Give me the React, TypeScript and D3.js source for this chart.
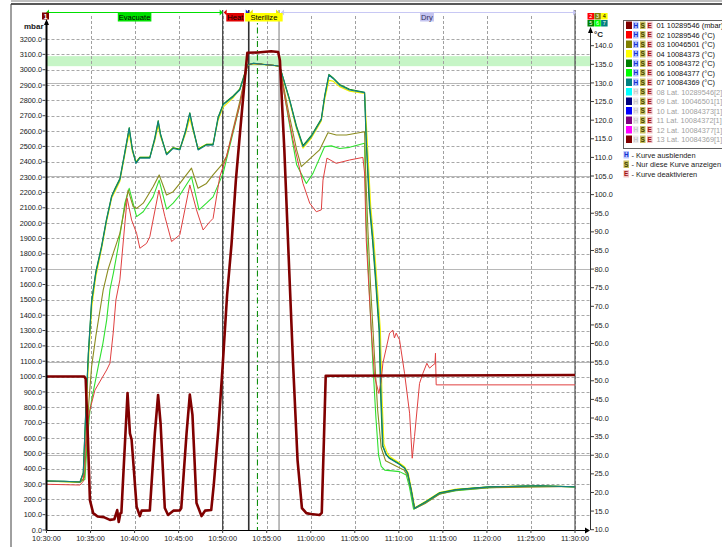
import React from 'react';
import * as d3 from 'd3';

const W = 722;
const H = 547;

// ---- axes ----
const leftTicks = d3.range(0, 3201, 100);
const rightTicks = d3.range(10, 141, 5);
const timeLabels = ["10:30:00","10:35:00","10:40:00","10:45:00","10:50:00","10:55:00","11:00:00","11:05:00","11:10:00","11:15:00","11:20:00","11:25:00","11:30:00"];
const timeTickMin = [0,5,10,15,20,25,30,35,40,45,50,55,60];
const solidTempLines = [30, 55, 80, 105, 130];
const bandLow = 134.5;
const bandHigh = 137.2;

// ---- phases (minutes after 10:30:00) ----
const phaseNames = ["Evacuate", "Heat", "Sterilize", "Dry"];
const phaseStart = [0, 20, 22.96, 26.4];
const phaseEnd = [20, 22.96, 26.4, 60];
const phaseFill = ["#00e000", "#e00000", "#ffff00", "#c4c4f0"];
const phaseLineColor = ["#00e000", "#e00000", "#e8e800", "#c8c8f4"];
const holdMarkMin = 23.95;

// ---- series: [minutes after 10:30:00, value] ----
const s01_mbar = [[0,1000],[4.3,1000],[4.45,985],[4.7,600],[4.93,195],[5.3,110],[5.8,88],[6.5,84],[7.2,66],[7.7,70],[8.03,130],[8.2,52],[8.4,110],[8.5,112],[9.2,893],[9.47,630],[9.66,590],[10.23,152],[10.6,91],[10.8,126],[11.73,128],[12.3,630],[12.67,880],[12.95,697],[13.43,143],[13.8,98],[14.4,126],[15.14,128],[15.3,143],[15.9,630],[16.27,882],[16.57,750],[17.03,176],[17.6,91],[18.0,126],[18.7,130],[19.0,300],[19.5,650],[20.0,1070],[20.5,1530],[21.0,1860],[21.5,2280],[22.0,2610],[22.5,2930],[22.8,3110],[24.0,3112],[25.5,3120],[26.3,3115],[26.5,3060],[27.0,2480],[27.5,1770],[28.0,1075],[28.5,456],[29.0,143],[29.5,110],[30.0,104],[31.0,98],[31.25,112],[31.5,600],[31.7,1005],[60,1010]];

const s02_red = [[0,22.2],[3.8,22.0],[4.17,23],[4.36,30],[4.56,37.7],[4.93,42.2],[5.5,47.5],[6.83,52.9],[7.2,54.7],[7.57,62.8],[7.88,71.7],[8.33,77.1],[8.9,92.3],[9.16,99],[9.66,93.2],[10.23,89.6],[10.6,85.6],[11.36,86.9],[11.73,88.7],[12.76,101.2],[13.44,94.1],[14.2,87.4],[15.14,89.2],[16.27,102.6],[17.03,95.9],[17.78,90.5],[18.54,92.7],[18.91,93.6],[19.67,104.8],[20.43,110.2],[21.94,124],[22.81,134.8],[23.5,135.2],[24.5,135],[26.2,134.6],[26.47,134.5],[27.04,126.3],[27.98,114.7],[29.12,103],[29.88,97.7],[30.63,95.4],[31.2,95.9],[31.39,103.9],[31.84,109.8],[32.9,108.4],[34.41,109.3],[35.92,110.0],[36.11,105.8],[36.3,87.8],[36.87,63.6],[37.25,51.1],[37.73,46.6],[38.0,50],[38.19,54.7],[38.95,62.8],[39.32,63.6],[39.5,61.5],[39.7,62.8],[39.9,61.8],[40.08,61.0],[40.65,52.0],[41.22,41.3],[41.52,29.2],[41.78,35.0],[42.35,49.3],[42.73,52],[43.18,54.7],[43.49,53.4],[43.87,54.2],[44.1,54.6],[44.16,57.4],[44.24,48.9],[60,48.9]];

const s03_olive = [[0,23.0],[3.8,22.8],[4.3,24],[4.5,32],[4.8,44],[5.12,53.8],[5.6,62],[6.26,71.7],[6.44,74.4],[7.0,80],[7.57,84.2],[8.33,89.6],[9.27,101.2],[9.84,96.8],[10.23,96.3],[10.98,97.7],[12.1,102.1],[12.79,105.3],[13.63,99.9],[14.38,100.8],[15.14,103],[16.46,107.1],[17.2,101.7],[18.16,103],[18.91,105.3],[19.86,107.9],[20.43,110.2],[21.94,125],[22.81,134.8],[23.5,135.2],[24.5,135],[26.2,134.6],[26.47,134.5],[27.5,122],[28.4,112],[28.93,107.5],[31.0,112],[31.95,116.6],[32.9,116],[34.04,116],[36.11,116.9],[36.25,105],[36.5,90],[36.8,75],[37.2,58],[37.6,42],[38.0,32],[38.5,28.5],[39.5,27.3],[40.6,26],[41.0,24.5],[41.4,20.5],[41.78,15.6],[43.1,17.2],[44.6,19.5],[46.5,20.6],[50.3,21.3],[60,21.6]];

const s04_yellow = [[0,23.0],[2,22.9],[3.8,22.7],[4.2,25.0],[4.55,44],[4.8,57],[5.15,70],[5.6,78],[6.26,85.5],[6.8,92.5],[7.39,99],[7.8,101],[8.33,103.6],[8.8,109.5],[9.16,114],[9.39,116.5],[9.75,111.5],[10.15,108.8],[10.6,110],[11.73,110],[12.3,114.5],[12.68,118.5],[12.95,115.5],[13.63,111],[14.38,112.6],[15.14,112.2],[15.8,116.5],[16.27,120.5],[16.6,117.5],[17.21,112.3],[18.16,113.5],[18.91,113.5],[19.48,120],[20.05,123.5],[21.18,126],[21.94,128.4],[22.4,131.5],[22.81,134.8],[23.5,135.2],[24.5,135],[26.2,134.6],[26.47,134.5],[27.6,125],[28.37,117.8],[29.12,112.5],[30.07,115.2],[31.2,119.8],[31.58,125.5],[32.06,130.7],[32.52,130.5],[33.28,129],[34.41,127.8],[36.11,127.2],[36.4,115],[36.8,97],[37.15,88],[37.5,77],[37.9,63.6],[38.1,45],[38.3,33],[38.7,30.5],[39.0,29.6],[39.9,28.2],[40.65,26.9],[41.05,25.3],[41.45,20.7],[41.82,15.9],[43.1,17.7],[44.6,20.0],[46.5,20.9],[48.4,21.2],[50.3,21.5],[54.1,21.7],[56.0,21.8],[60,21.5]];

const s05_green = [[0,23.1],[2,23.0],[3.8,22.8],[4.17,25.3],[4.5,44.5],[4.75,57.5],[5.12,71.5],[5.6,79.3],[6.26,86.3],[6.8,93.3],[7.39,99.6],[7.8,101.8],[8.33,104.3],[8.8,110.3],[9.16,115],[9.39,118],[9.75,112.3],[10.15,108.6],[10.6,110],[11.73,110],[12.3,115.3],[12.68,119.9],[12.95,116.3],[13.63,110.9],[14.38,112.6],[15.14,112.2],[15.8,117.3],[16.27,122],[16.6,118.3],[17.21,112.2],[18.16,113.5],[18.91,113.5],[19.48,120.8],[20.05,124.3],[21.18,126.5],[21.94,128.3],[22.4,131.8],[22.81,134.8],[23.5,135.3],[24.5,135],[26.2,134.6],[26.47,134.5],[27.6,125.6],[28.37,118.5],[29.12,113.2],[30.07,115.9],[31.2,120.4],[31.58,126.6],[32.06,132.3],[32.52,131.4],[33.28,129.6],[34.41,128.3],[36.11,127.5],[36.28,115],[36.65,97],[37.0,88],[37.35,77],[37.75,63.6],[37.95,45],[38.15,32.5],[38.55,30.2],[38.9,29.3],[39.9,27.9],[40.65,26.6],[41.0,25.2],[41.4,20.8],[41.78,15.8],[43.1,17.6],[44.6,19.9],[46.5,20.8],[48.4,21.2],[50.3,21.5],[54.1,21.7],[56.0,21.8],[60,21.5]];

const s06_lime = [[0,23.0],[3.8,22.8],[4.36,23.5],[4.6,33],[4.93,42],[5.12,44.8],[5.87,53.8],[6.4,60],[6.83,66.3],[7.2,74.4],[7.6,79],[8.14,86],[8.9,97.7],[9.39,101.7],[10.23,94.1],[10.98,95.4],[12.1,99.4],[12.79,103.9],[13.63,96.1],[14.38,97.7],[15.14,99.9],[16.46,104.8],[17.32,95.9],[18.16,97.7],[18.91,99.4],[20.05,105.7],[21.94,124],[22.81,134.8],[23.5,135.2],[24.5,135],[26.2,134.6],[26.47,134.5],[27.5,120],[28.4,108],[29.5,103.0],[30.25,105.7],[31.58,112.9],[32.34,113.1],[33.28,112.4],[34.41,112.7],[36.11,113.8],[36.3,92],[36.68,72.6],[37.05,54.7],[37.4,40],[37.7,30],[38.0,27],[38.4,26],[40.08,25.6],[40.84,24.7],[41.2,21.5],[41.67,15.5],[43.1,17.3],[44.6,19.6],[46.5,20.5],[50.3,21.3],[54.1,21.6],[60,21.6]];

const s07_teal = [[0,23.1],[2,23.0],[3.8,22.8],[4.17,25.1],[4.5,44],[4.75,57],[5.12,71],[5.6,79],[6.26,86],[6.8,93],[7.39,99.4],[7.8,101.5],[8.33,104],[8.8,110],[9.16,114.7],[9.39,117.8],[9.75,112],[10.15,108.4],[10.6,109.8],[11.73,109.8],[12.3,115],[12.68,119.6],[12.95,116],[13.63,110.7],[14.38,112.4],[15.14,112],[15.8,117],[16.27,121.8],[16.6,118],[17.21,112],[18.16,113.3],[18.91,113.3],[19.48,120.5],[20.05,124.1],[21.18,126.3],[21.94,128.1],[22.4,131.5],[22.81,134.8],[23.5,135.3],[24.5,135],[26.2,134.6],[26.47,134.5],[27.6,125.4],[28.37,118.2],[29.12,112.9],[30.07,115.6],[31.2,120.1],[31.58,126.3],[32.06,132.1],[32.52,131.2],[33.28,129.4],[34.41,128.1],[36.11,127.4],[36.3,115],[36.7,97],[37.05,88],[37.4,77],[37.8,63.6],[38.0,45],[38.2,32.5],[38.6,30],[38.9,29.2],[39.9,27.8],[40.65,26.5],[41.0,25.1],[41.4,20.7],[41.78,15.7],[43.1,17.5],[44.6,19.8],[46.5,20.7],[48.4,21.1],[50.3,21.5],[54.1,21.7],[56.0,21.8],[60,21.5]];

// ---- legend ----
const legendLabels = ["01 10289546 (mbar)","02 10289546 (°C)","03 10046501 (°C)","04 10084373 (°C)","05 10084372 (°C)","06 10084377 (°C)","07 10084369 (°C)","08 Lat. 10289546[2]","09 Lat. 10046501[1]","10 Lat. 10084373[1]","11 Lat. 10084372[1]","12 Lat. 10084377[1]","13 Lat. 10084369[1]"];
const legendColors = ["#800000","#ff0000","#808000","#ffff00","#008000","#00ff00","#008080","#00ffff","#000080","#0000ff","#800080","#ff00ff","#800000"];
const legendActive = [true,true,true,true,true,true,true,false,false,false,false,false,false];
const helpKeys = ["H","S","E"];
const helpTexts = ["- Kurve ausblenden","- Nur diese Kurve anzeigen","- Kurve deaktivieren"];
const miniIds = ["2","3","4","5","6","7"];
const miniColors = ["#ff0000","#808000","#ffff00","#008000","#00ff00","#008080"];

const FONT = "'Liberation Sans', Arial, sans-serif";

export default function App() {
  const x = d3.scaleLinear().domain([0, 60]).range([46.5, 575]);
  const yL = d3.scaleLinear().domain([0, 3200]).range([530, 39]);
  const yR = d3.scaleLinear().domain([10, 140]).range([529.7, 45.7]);
  const lineL = d3.line<number[]>().x(d => x(d[0])).y(d => yL(d[1]));
  const lineR = d3.line<number[]>().x(d => x(d[0])).y(d => yR(d[1]));

  const x0 = 46.5, x1 = 590, yTop = 14, yBot = 530;

  const tempSeries: [number[][], string, number][] = [
    [s06_lime, "#30e030", 1.1],
    [s04_yellow, "#f0f000", 1.2],
    [s05_green, "#109010", 1.1],
    [s03_olive, "#8c8c20", 1.1],
    [s02_red, "#e04040", 1.0],
    [s07_teal, "#108080", 1.1],
  ];

  const tri = (cx: number, cy: number, dir: number, s = 3.5) =>
    dir > 0 ? `M${cx},${cy - s} L${cx + s},${cy} L${cx},${cy + s} Z` : `M${cx},${cy - s} L${cx - s},${cy} L${cx},${cy + s} Z`;

  return (
    <svg width={W} height={H} style={{ position: 'absolute', left: 0, top: 0, background: '#fff' }} fontFamily={FONT}>
      <rect x={0} y={0} width={W} height={H} fill="#fff" />
      {/* outer frame */}
      <line x1={11} x2={W} y1={1} y2={1} stroke="#808080" strokeWidth={1} />
      <line x1={11} x2={W} y1={4} y2={4} stroke="#202020" strokeWidth={1.5} />
      <line x1={11} x2={11} y1={4} y2={H} stroke="#404040" strokeWidth={1} />

      {/* sterilize band */}
      <rect x={x0} width={x1 - x0} y={yR(bandHigh)} height={yR(bandLow) - yR(bandHigh)} fill="#c6f5c6" />

      {/* horizontal grid */}
      {leftTicks.filter(v => v > 0).map(v => (
        <line key={'h' + v} x1={x0} x2={x1} y1={Math.round(yL(v)) + 0.5} y2={Math.round(yL(v)) + 0.5} stroke="#a8a8a8" strokeDasharray="3,2" strokeWidth={1} />
      ))}
      {solidTempLines.map(v => (
        <line key={'st' + v} x1={x0} x2={x1} y1={Math.round(yR(v)) + 0.5} y2={Math.round(yR(v)) + 0.5} stroke="#b8b8b8" strokeWidth={1} />
      ))}
      {/* vertical grid */}
      {timeTickMin.filter(m => m > 0).map(m => (
        <line key={'v' + m} x1={Math.round(x(m)) + 0.5} x2={Math.round(x(m)) + 0.5} y1={yTop + 2} y2={yBot} stroke="#a0a0a0" strokeDasharray="3,2" strokeWidth={1} />
      ))}

      {/* phase boundary lines */}
      <line x1={x(phaseStart[1])} x2={x(phaseStart[1])} y1={10} y2={yBot} stroke="#404040" strokeWidth={1.2} />
      <line x1={x(phaseStart[2])} x2={x(phaseStart[2])} y1={10} y2={yBot} stroke="#303030" strokeWidth={1.6} />
      <line x1={x(holdMarkMin)} x2={x(holdMarkMin)} y1={14} y2={yBot} stroke="#109010" strokeWidth={1.1} strokeDasharray="6,3,1.5,3" />
      <line x1={x(phaseStart[3])} x2={x(phaseStart[3])} y1={10} y2={yBot} stroke="#909090" strokeWidth={1.2} />
      <line x1={x(phaseEnd[3])} x2={x(phaseEnd[3])} y1={10} y2={yBot} stroke="#505050" strokeWidth={1.2} />

      {/* phase bar */}
      <line x1={x(phaseStart[0]) + 2} x2={x(phaseEnd[0]) - 2} y1={12.5} y2={12.5} stroke={phaseLineColor[0]} strokeWidth={1} />
      <line x1={x(phaseStart[3]) + 2} x2={x(phaseEnd[3]) - 2} y1={12.5} y2={12.5} stroke={phaseLineColor[3]} strokeWidth={1} />
      <path d={tri(x(phaseStart[0]) + 2.5, 12.5, -1, 3)} fill={phaseLineColor[0]} />
      <path d={tri(x(phaseEnd[0]) - 3, 12.5, 1, 3)} fill={phaseLineColor[0]} />
      <path d={tri(x(phaseStart[1]) + 4, 12.5, -1, 3)} fill="#e00000" />
      <path d={tri(x(phaseEnd[1]) - 3, 12.5, 1, 3)} fill="#2020e0" />
      <path d={tri(x(phaseStart[2]) + 4, 12.5, -1, 3)} fill="#e8e800" />
      <path d={tri(x(phaseEnd[2]) - 3, 12.5, 1, 3)} fill="#e8e800" />
      <path d={tri(x(phaseStart[3]) + 5, 12.5, -1, 3)} fill={phaseLineColor[3]} />
      <path d={tri(x(phaseEnd[3]) - 2, 12.5, 1, 3)} fill={phaseLineColor[3]} />
      {phaseNames.map((n, i) => {
        const cx = (x(phaseStart[i]) + x(phaseEnd[i])) / 2 + (i === 1 ? -0.5 : 0);
        const w = n.length * 3.95 + 2;
        return (
          <g key={n}>
            <rect x={cx - w / 2} y={13} width={w} height={8.5} fill={phaseFill[i]} />
            <text x={cx} y={20} fontSize={7.6} textAnchor="middle" fill={i === 3 ? "#303060" : "#000"}>{n}</text>
          </g>
        );
      })}

      {/* curves */}
      {tempSeries.map(([d, c, w], i) => (
        <path key={'t' + i} d={lineR(d) || ''} fill="none" stroke={c} strokeWidth={w} strokeLinejoin="round" />
      ))}
      <path d={lineL(s01_mbar) || ''} fill="none" stroke="#800000" strokeWidth={2.6} strokeLinejoin="round" />

      {/* left axis */}
      <line x1={46.5} x2={46.5} y1={22} y2={yBot} stroke="#000" strokeWidth={2} />
      <path d="M46.5,19 L44,25 L49,25 Z" fill="#000" />
      <text x={43.5} y={29} fontSize={8} fontWeight="bold" textAnchor="end" fill="#202020">mbar</text>
      {leftTicks.map(v => (
        <g key={'lt' + v}>
          <line x1={42.5} x2={45.5} y1={yL(v)} y2={yL(v)} stroke="#404040" />
          <text x={42} y={yL(v) + 2.6} fontSize={7.3} textAnchor="end" fill="#202020">{v.toFixed(1)}</text>
        </g>
      ))}
      {/* marker 1 */}
      <rect x={42} y={12.5} width={7} height={7} fill="#800000" />
      <text x={45.5} y={18.7} fontSize={6.5} textAnchor="middle" fill="#fff" fontWeight="bold">1</text>

      {/* right axis */}
      <line x1={590.5} x2={590.5} y1={30} y2={yBot} stroke="#303030" strokeWidth={1} />
      <path d="M590.5,27 L588,33 L593,33 Z" fill="#000" />
      <text x={594} y={36.5} fontSize={8} fontWeight="bold" fill="#202020">°C</text>
      {rightTicks.map(v => (
        <g key={'rt' + v}>
          <line x1={590.5} x2={594} y1={yR(v)} y2={yR(v)} stroke="#404040" />
          <text x={594.5} y={yR(v) + 2.6} fontSize={7.3} fill="#202020">{v.toFixed(1)}</text>
        </g>
      ))}
      {miniIds.map((id, i) => {
        const cx = 587.5 + (i % 3) * 6.8;
        const cy = 13 + Math.floor(i / 3) * 7;
        return (
          <g key={'m' + id}>
            <rect x={cx} y={cy} width={6.5} height={6.5} fill={miniColors[i]} />
            <text x={cx + 3.25} y={cy + 5.4} fontSize={5.5} textAnchor="middle" fill={i === 2 ? "#000" : "#fff"}>{id}</text>
          </g>
        );
      })}

      {/* bottom axis */}
      <line x1={45.5} x2={587} y1={yBot + 0.5} y2={yBot + 0.5} stroke="#000" strokeWidth={1.2} />
      <path d={`M590,${yBot + 0.5} L585,${yBot - 2.5} L585,${yBot + 3.5} Z`} fill="#000" />
      {timeTickMin.map((m, i) => (
        <g key={'xt' + m}>
          <line x1={x(m)} x2={x(m)} y1={yBot} y2={yBot + 3} stroke="#404040" />
          <text x={x(m)} y={541} fontSize={7.4} textAnchor="middle" fill="#202020">{timeLabels[i]}</text>
        </g>
      ))}

      {/* legend */}
      <rect x={623.5} y={20.5} width={110} height={128} fill="#fff" stroke="#606060" strokeWidth={1} />
      {legendLabels.map((lab, i) => {
        const ty = 21.5 + i * 9.5;
        const act = legendActive[i];
        return (
          <g key={'lg' + i}>
            <rect x={626} y={ty} width={6} height={7.5} fill={legendColors[i]} />
            <rect x={633} y={ty} width={5.5} height={7.5} fill={act ? "#b8c4ff" : "#ececec"} />
            <text x={635.75} y={ty + 6.3} fontSize={6.5} fontWeight="bold" textAnchor="middle" fill={act ? "#1030d0" : "#c8c8c8"}>H</text>
            <rect x={640} y={ty} width={5.5} height={7.5} fill="#c8c060" />
            <text x={642.75} y={ty + 6.3} fontSize={6.5} fontWeight="bold" textAnchor="middle" fill="#404000">S</text>
            <rect x={647} y={ty} width={5.5} height={7.5} fill="#f2c4c4" />
            <text x={649.75} y={ty + 6.3} fontSize={6.5} fontWeight="bold" textAnchor="middle" fill="#a01010">E</text>
            <text x={656.5} y={ty + 6.5} fontSize={7.4} fill={act ? "#101010" : "#a0a0a0"}>{lab}</text>
          </g>
        );
      })}
      {helpKeys.map((k, i) => {
        const ty = 151 + i * 9.5;
        const fills = ["#b8c4ff", "#c8c060", "#f2c4c4"];
        const tc = ["#1030d0", "#404000", "#a01010"];
        return (
          <g key={'hk' + k}>
            <rect x={623.5} y={ty} width={5.5} height={7.5} fill={fills[i]} />
            <text x={626.25} y={ty + 6.3} fontSize={6.5} fontWeight="bold" textAnchor="middle" fill={tc[i]}>{k}</text>
            <text x={631.5} y={ty + 6.5} fontSize={7.4} fill="#202020">{helpTexts[i]}</text>
          </g>
        );
      })}
    </svg>
  );
}
